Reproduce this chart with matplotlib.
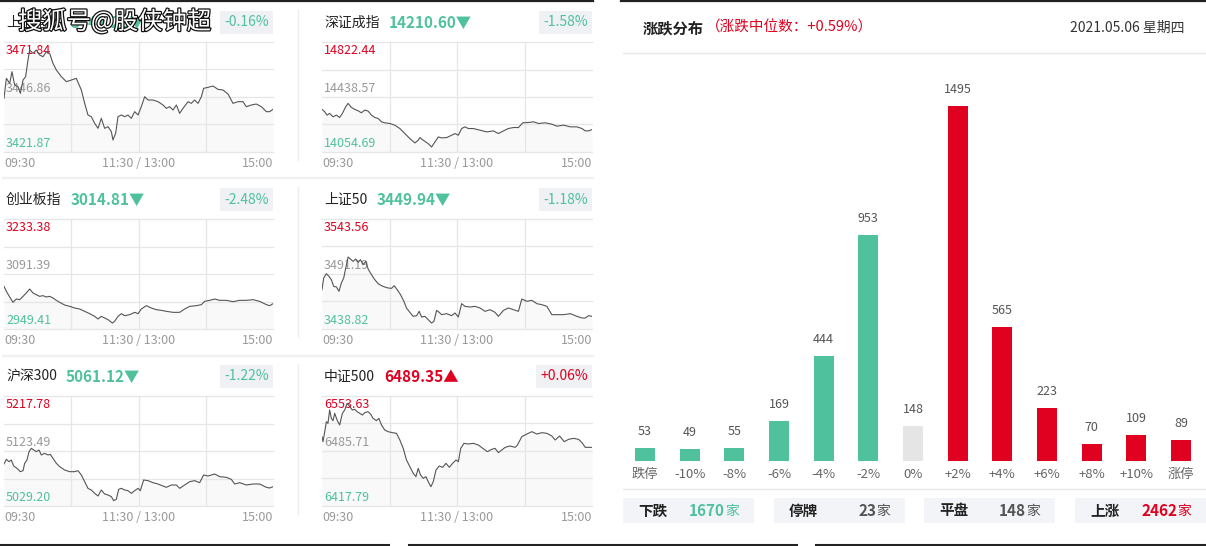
import matplotlib
matplotlib.use('Agg')

import matplotlib.pyplot as plt
import matplotlib.patheffects as pe
from matplotlib.patches import Rectangle
import numpy as np

plt.rcParams['font.family'] = ['Noto Sans CJK SC', 'DejaVu Sans']

W, H = 1206, 546
GREEN = '#4fc19c'
RED = '#e0001f'
GREY = '#999999'

# ---------------- index panels ----------------
names = ['上证指数', '深证成指', '创业板指', '上证50', '沪深300', '中证500']
closes = ['3441.28', '14210.60', '3014.81', '3449.94', '5061.12', '6489.35']
changes = ['-0.16%', '-1.58%', '-2.48%', '-1.18%', '-1.22%', '+0.06%']
axis_hi = [3471.84, 14822.44, 3233.38, 3543.56, 5217.78, 6553.63]
axis_mid = [3446.86, 14438.57, 3091.39, 3491.19, 5123.49, 6485.71]
axis_lo = [3421.87, 14054.69, 2949.41, 3438.82, 5029.20, 6417.79]
time_labels = ['09:30', '11:30 / 13:00', '15:00']

# minutes since open (0-240) and index level
sh_t = [0, 2.1, 5.1, 7.1, 9.5, 12.5, 14.6, 17.0, 19.3, 21.4, 22.9, 25.9, 28.8, 31.8, 34.8,
        37.8, 40.7, 43.7, 46.7, 51.2, 55.6, 60.1, 64.5, 69.0, 72.0, 74.9, 77.9, 80.9, 83.9,
        86.8, 89.8, 92.8, 95.8, 97.2, 99.6, 101.7, 104.7, 107.7, 110.6, 113.6, 116.6, 119.6,
        122.5, 125.5, 128.5, 132.9, 137.4, 141.9, 144.8, 147.8, 150.8, 153.8, 156.7, 159.7,
        164.2, 167.1, 170.1, 173.1, 176.1, 178.1, 182.0, 186.5, 190.9, 195.4, 199.9, 204.3,
        208.8, 213.2, 216.2, 220.7, 225.1, 229.6, 234.1, 237.0, 240]
sh_v = [3446.25, 3455.33, 3453.06, 3458.36, 3452.30, 3451.54, 3448.52, 3454.57, 3456.09,
        3463.66, 3468.20, 3466.68, 3468.20, 3465.93, 3465.17, 3467.44, 3466.68, 3462.14,
        3459.11, 3456.09, 3453.82, 3454.57, 3455.33, 3450.03, 3443.97, 3438.68, 3437.92,
        3434.89, 3432.62, 3437.16, 3432.62, 3433.38, 3431.11, 3427.32, 3430.35, 3437.92,
        3438.68, 3437.92, 3438.68, 3437.16, 3440.19, 3438.68, 3442.46, 3447.00, 3445.49,
        3445.49, 3444.73, 3443.22, 3441.70, 3442.46, 3440.95, 3443.22, 3439.43, 3441.70,
        3444.73, 3443.97, 3445.49, 3443.97, 3447.00, 3450.79, 3451.24, 3451.85, 3450.33,
        3450.03, 3448.21, 3443.97, 3444.73, 3444.73, 3442.46, 3443.22, 3443.67, 3442.46,
        3440.19, 3440.19, 3441.25]

sz_t = [0, 2.4, 4.5, 6.8, 9.8, 12.8, 15.7, 18.1, 21.1, 23.2, 26.1, 29.1, 32.1, 35.0, 38.0,
        41.0, 44.0, 46.9, 49.9, 52.9, 55.8, 60.3, 64.7, 69.2, 73.7, 78.1, 82.6, 85.5, 87.0,
        90.0, 94.4, 97.4, 100.4, 103.4, 106.3, 110.8, 115.2, 118.2, 121.2, 124.1, 127.1,
        130.1, 134.5, 140.5, 146.4, 152.4, 156.8, 161.3, 165.7, 170.2, 174.6, 178.5, 183.5,
        188.0, 192.5, 198.4, 204.3, 208.8, 214.7, 220.7, 226.6, 231.1, 234.0, 237.0, 240]
sz_v = [14351.96, 14335.57, 14312.17, 14323.87, 14300.46, 14312.17, 14295.78, 14323.87,
        14370.69, 14394.09, 14366.00, 14351.96, 14342.60, 14328.55, 14347.28, 14340.26,
        14312.17, 14295.78, 14288.76, 14265.35, 14258.33, 14253.65, 14241.95, 14218.54,
        14183.43, 14148.32, 14117.89, 14136.61, 14155.34, 14136.61, 14113.21, 14089.80,
        14124.91, 14160.02, 14153.00, 14155.34, 14171.73, 14183.43, 14171.73, 14218.54,
        14230.24, 14218.54, 14218.54, 14206.84, 14195.13, 14202.15, 14183.43, 14202.15,
        14218.54, 14225.56, 14225.56, 14258.33, 14260.67, 14265.35, 14253.65, 14258.33,
        14248.97, 14234.92, 14241.95, 14230.24, 14230.24, 14218.54, 14202.15, 14202.15,
        14211.52]

cy_t = [0, 2.1, 5.1, 8.0, 11.0, 14.0, 17.0, 19.9, 22.9, 25.9, 28.8, 31.8, 34.8, 37.8, 40.7,
        43.7, 46.7, 49.7, 54.1, 58.6, 63.0, 67.5, 72.0, 76.4, 80.9, 83.9, 86.8, 89.8, 92.8,
        96.7, 98.7, 101.7, 104.7, 107.7, 112.1, 116.6, 119.6, 122.5, 127.0, 131.4, 135.9,
        140.4, 144.8, 150.8, 156.7, 161.2, 165.7, 171.6, 176.1, 179.0, 183.5, 188.0, 192.4,
        198.4, 204.3, 210.3, 216.2, 222.2, 228.1, 234.1, 237.0, 240]
cy_v = [3059.55, 3046.65, 3032.02, 3018.25, 3026.86, 3025.13, 3033.74, 3042.34, 3052.67,
        3042.34, 3038.04, 3033.74, 3035.46, 3032.02, 3033.74, 3029.44, 3023.41, 3018.25,
        3011.37, 3007.92, 3003.62, 3001.04, 2995.02, 2988.99, 2982.11, 2975.23, 2982.11,
        2977.81, 2973.50, 2964.90, 2969.20, 2982.11, 2988.99, 2983.83, 2986.41, 2992.44,
        2988.99, 3001.04, 3009.65, 3003.62, 2999.32, 2997.60, 2995.02, 2992.44, 2992.44,
        3001.04, 3007.92, 3009.65, 3012.23, 3020.83, 3023.41, 3026.86, 3023.41, 3023.41,
        3019.97, 3023.41, 3023.41, 3025.13, 3020.83, 3012.23, 3009.65, 3014.81]

sz50_t = [0, 1.5, 3.9, 6.2, 8.3, 10.4, 12.8, 15.1, 17.2, 19.3, 21.1, 23.2, 25.2, 27.6, 30.0,
          32.1, 34.2, 36.5, 38.9, 41.0, 44.0, 46.9, 49.9, 52.9, 55.8, 58.8, 61.8, 64.2, 66.8,
          69.8, 72.8, 75.1, 78.1, 81.1, 84.1, 86.4, 88.5, 91.5, 94.4, 97.4, 99.5, 101.9,
          104.2, 106.3, 110.8, 115.2, 118.2, 121.2, 124.1, 127.1, 131.6, 136.0, 140.5, 144.9,
          149.4, 153.8, 156.8, 161.3, 165.7, 170.2, 174.6, 177.6, 182.1, 186.5, 191.0, 195.4,
          199.9, 204.3, 208.8, 214.7, 220.7, 226.6, 231.1, 234.0, 237.0, 240]
sz50_v = [3476.27, 3487.38, 3491.51, 3488.97, 3485.80, 3479.45, 3478.81, 3474.69, 3482.62,
          3487.38, 3496.90, 3507.38, 3505.47, 3503.25, 3505.47, 3502.30, 3504.84, 3500.08,
          3503.25, 3495.95, 3490.56, 3485.80, 3481.99, 3480.08, 3478.81, 3477.86, 3477.54,
          3480.08, 3476.27, 3471.51, 3465.16, 3458.82, 3454.69, 3450.88, 3451.52, 3455.64,
          3450.25, 3450.88, 3447.71, 3444.53, 3446.12, 3456.59, 3454.69, 3452.47, 3453.42,
          3451.52, 3454.06, 3450.25, 3462.94, 3460.40, 3459.77, 3460.40, 3458.82, 3455.64,
          3457.23, 3454.69, 3450.88, 3456.59, 3458.82, 3457.23, 3455.64, 3467.39, 3465.16,
          3466.12, 3462.94, 3461.99, 3460.40, 3452.47, 3452.47, 3452.47, 3453.42, 3450.88,
          3449.29, 3449.29, 3451.52, 3450.88]

hs300_t = [0, 2.1, 4.5, 6.5, 8.6, 11.6, 14.6, 17.0, 18.4, 20.5, 22.3, 24.4, 26.5, 28.8, 31.2,
           33.3, 36.3, 39.3, 41.3, 43.7, 46.7, 49.7, 54.1, 58.6, 63.0, 66.0, 69.0, 72.0, 74.9,
           77.9, 80.9, 83.9, 86.8, 89.8, 92.8, 95.8, 97.8, 100.2, 102.3, 104.7, 107.7, 110.6,
           113.6, 116.6, 119.6, 121.6, 124.6, 128.5, 132.9, 137.4, 141.9, 144.8, 149.3,
           153.8, 156.7, 161.2, 165.7, 170.1, 174.6, 178.1, 182.0, 188.0, 192.4, 198.4,
           202.8, 205.8, 210.3, 216.2, 222.2, 228.1, 234.1, 237.0, 240]
hs300_v = [5101.21, 5109.21, 5105.21, 5108.07, 5097.78, 5093.78, 5088.06, 5089.78, 5102.35,
           5108.07, 5122.35, 5128.07, 5125.21, 5122.35, 5125.21, 5116.64, 5119.50, 5116.64,
           5117.78, 5110.92, 5102.35, 5096.64, 5090.92, 5088.06, 5088.06, 5089.78, 5082.35,
           5070.92, 5059.49, 5056.63, 5050.92, 5046.35, 5056.63, 5049.77, 5048.06, 5045.20,
           5038.34, 5040.63, 5057.78, 5059.49, 5056.63, 5055.49, 5050.92, 5055.49, 5059.49,
           5055.49, 5073.78, 5072.63, 5069.21, 5066.92, 5063.49, 5061.20, 5065.20, 5065.20,
           5059.49, 5065.20, 5070.92, 5072.63, 5069.21, 5082.35, 5080.64, 5084.06, 5079.49,
           5078.35, 5074.92, 5066.92, 5069.21, 5065.20, 5066.92, 5066.92, 5061.20, 5060.06,
           5062.35]

zz500_t = [0, 0.9, 2.4, 3.9, 5.3, 6.8, 8.3, 9.8, 11.3, 13.4, 15.7, 18.1, 20.2, 22.3, 24.7,
           27.0, 29.1, 31.2, 33.6, 35.9, 38.0, 41.0, 43.1, 45.4, 48.4, 50.5, 52.9, 55.8, 58.8,
           62.7, 66.2, 69.2, 72.2, 75.1, 78.1, 81.1, 83.5, 85.5, 87.6, 90.0, 92.4, 94.4, 96.8,
           98.9, 101.3, 104.2, 107.2, 110.2, 113.2, 116.1, 119.1, 121.2, 123.3, 126.2, 130.1,
           134.5, 139.0, 142.9, 147.0, 150.9, 153.8, 156.8, 159.8, 162.8, 167.2, 171.7,
           173.7, 177.6, 182.1, 186.5, 191.0, 195.4, 199.9, 204.3, 207.3, 211.2, 215.3,
           219.2, 223.6, 228.1, 231.1, 234.0, 237.0, 240]
zz500_v = [6503.40, 6497.23, 6509.58, 6521.92, 6519.87, 6536.33, 6526.04, 6523.16, 6532.21,
           6523.98, 6517.81, 6532.21, 6536.33, 6544.56, 6540.45, 6536.33, 6537.15, 6534.27,
           6532.21, 6530.16, 6533.04, 6534.27, 6531.39, 6526.04, 6523.16, 6526.04, 6517.81,
           6511.63, 6509.58, 6508.34, 6507.52, 6499.29, 6489.00, 6474.59, 6466.36, 6458.13,
           6454.01, 6464.30, 6456.07, 6451.95, 6454.01, 6447.84, 6441.66, 6447.84, 6462.24,
           6467.18, 6465.54, 6470.47, 6465.54, 6470.47, 6474.59, 6472.53, 6489.00, 6495.17,
           6494.35, 6495.17, 6493.11, 6489.00, 6484.88, 6487.76, 6489.00, 6483.65, 6486.94,
           6490.23, 6491.88, 6490.23, 6493.11, 6503.40, 6506.70, 6509.58, 6506.70, 6508.34,
           6507.52, 6504.23, 6499.29, 6504.23, 6497.23, 6500.11, 6501.34, 6500.11, 6495.99,
           6490.23, 6490.23, 6490.23]

series_t = [sh_t, sz_t, cy_t, sz50_t, hs300_t, zz500_t]
series_v = [sh_v, sz_v, cy_v, sz50_v, hs300_v, zz500_v]

# ---------------- up / down distribution ----------------
dist_labels = ['跌停', '-10%', '-8%', '-6%', '-4%', '-2%', '0%',
               '+2%', '+4%', '+6%', '+8%', '+10%', '涨停']
dist_counts = [53, 49, 55, 169, 444, 953, 148, 1495, 565, 223, 70, 109, 89]
summary_labels = ['下跌', '停牌', '平盘', '上涨']
summary_counts = [1670, 23, 148, 2462]
median_text = '（涨跌中位数：+0.59%）'
date_text = '2021.05.06 星期四'


fig = plt.figure(figsize=(W / 100, H / 100), dpi=100)
bg = fig.add_axes([0, 0, 1, 1])
bg.set_xlim(0, W)
bg.set_ylim(H, 0)
bg.axis('off')


def px_axes(x0, y0, x1, y1):
    return fig.add_axes([x0 / W, 1 - y1 / H, (x1 - x0) / W, (y1 - y0) / H])


# frame lines
bg.plot([0, 593], [1, 1], color='#222222', lw=1.6)
bg.plot([621, W], [1, 1], color='#222222', lw=1.6)
for a, b in [(0, 388), (409, 796), (816, W)]:
    bg.plot([a, b], [544.5, 544.5], color='#222222', lw=2.2)
for r in range(3):
    bg.plot([298, 298], [r * 177 + 10, r * 177 + 160], color='#eeeeee', lw=1)
for yy in (178, 356):
    bg.plot([3, 593], [yy, yy], color='#f0f0f0', lw=1.6)

for i in range(6):
    col, row = i % 2, i // 2
    x0, x1 = 4 + col * 318, 273 + col * 319
    y0, y1 = 42 + row * 177, 152 + row * 177
    ty = 22.5 + row * 177
    up = changes[i].startswith('+')
    c = RED if up else GREEN

    title = bg.text(x0 + 2, ty, names[i], fontsize=10, color='#222222', va='center')
    bg.annotate(closes[i] + ('▲' if up else '▼'), xy=(1, 0.5), xycoords=title,
                xytext=(9, 0), textcoords='offset pixels', va='center', ha='left',
                fontsize=11, fontweight='bold', color=c)
    bg.text(x1 - 4, ty, changes[i], ha='right', va='center', fontsize=10, color=c,
            bbox=dict(boxstyle='square,pad=0.3', fc='#eff1f4', ec='none'))

    ax = px_axes(x0, y0, x1, y1)
    lo, mid, hi = axis_lo[i], axis_mid[i], axis_hi[i]
    ax.set_xlim(0, 240)
    ax.set_ylim(lo, hi)
    ax.axis('off')
    for lvl in np.linspace(lo, hi, 5):
        ax.axhline(lvl, color='#e6e6e6', lw=0.9, zorder=1, clip_on=False)
    for tx in (60, 120, 180):
        ax.axvline(tx, color='#e6e6e6', lw=0.9, zorder=1)
    ax.fill_between(series_t[i], series_v[i], lo, color='#f9f9f9', lw=0, zorder=0.5)
    ax.plot(series_t[i], series_v[i], color='#555555', lw=0.8, zorder=3)

    ax.annotate(f'{hi:.2f}', xy=(0, hi), xytext=(2, -12), textcoords='offset pixels',
                va='baseline', color=RED, fontsize=9, zorder=2, annotation_clip=False)
    ax.annotate(f'{mid:.2f}', xy=(0, mid), xytext=(2, 5), textcoords='offset pixels',
                va='baseline', color=GREY, fontsize=9, zorder=2, annotation_clip=False)
    ax.annotate(f'{lo:.2f}', xy=(0, lo), xytext=(2, 5), textcoords='offset pixels',
                va='baseline', color=GREEN, fontsize=9, zorder=2, annotation_clip=False)
    for tx, lab, ha in zip((0, 120, 240), time_labels, ('left', 'center', 'right')):
        ax.annotate(lab, xy=(tx, lo), xytext=(0, -15), textcoords='offset pixels',
                    ha=ha, va='baseline', color=GREY, fontsize=9, annotation_clip=False)

# watermark over the first title
bg.text(18, 22, '搜狐号@股侠钟超', fontsize=17.5, color='white', va='center', zorder=10,
        path_effects=[pe.withStroke(linewidth=1.8, foreground='#111111')])

# ---------------- right panel ----------------
head = bg.text(643, 28, '涨跌分布', fontsize=11, fontweight='bold', color='#222222',
               va='center')
bg.annotate(median_text, xy=(1, 0.5), xycoords=head, xytext=(2, 0),
            textcoords='offset pixels', va='center', fontsize=10.5, color=RED)
bg.text(1184, 28, date_text, ha='right', va='center', fontsize=10, color='#333333')
bg.plot([623, W], [53, 53], color='#e8e8e8', lw=1)
bg.plot([623, W], [489, 489], color='#e8e8e8', lw=1)

bax = px_axes(622.7, 56, 1203.3, 461)
bax.set_xlim(-0.5, 12.5)
bax.set_ylim(0, 1705)
bax.axis('off')
bar_colors = [GREEN] * 6 + ['#e5e5e5'] + [RED] * 6
xs = np.arange(len(dist_counts))
bax.bar(xs, dist_counts, width=0.45, color=bar_colors)
for x, n, lab in zip(xs, dist_counts, dist_labels):
    bax.annotate(str(n), xy=(x, n), xytext=(0, 13), textcoords='offset pixels',
                 ha='center', va='baseline', fontsize=9, color='#555555')
    bax.annotate(lab, xy=(x, 0), xytext=(0, -17), textcoords='offset pixels',
                 ha='center', va='baseline', fontsize=9.5, color='#666666',
                 annotation_clip=False)

sum_colors = [GREEN, '#555555', '#555555', RED]
for bx, lab, n, c in zip([623, 774, 924, 1075], summary_labels, summary_counts, sum_colors):
    bg.add_patch(Rectangle((bx, 498), 131, 25, fc='#f3f4f8', ec='none'))
    bg.text(bx + 15, 510.5, lab, fontsize=10.5, fontweight='bold', color='#222222',
            va='center')
    jia = bg.text(bx + 116, 510.5, '家', fontsize=10, color=c, ha='right', va='center')
    bg.annotate(str(n), xy=(0, 0.5), xycoords=jia, xytext=(0, 0),
                textcoords='offset pixels', ha='right', va='center', fontsize=11,
                fontweight='bold', color=c)

fig.savefig('out.png', dpi=100)
